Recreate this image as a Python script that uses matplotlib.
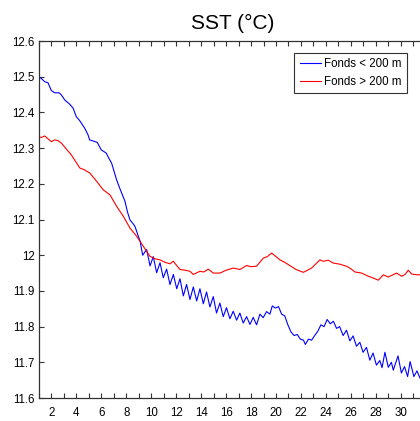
import matplotlib
matplotlib.use("Agg")
import matplotlib.pyplot as plt
from matplotlib.ticker import MultipleLocator, FixedLocator

plt.rcParams['font.family'] = ['Liberation Sans', 'DejaVu Sans']

title = "SST (°C)"
label_shallow = "Fonds < 200 m"
label_deep = "Fonds > 200 m"

# Series "Fonds < 200 m" (blue): day, SST
shallow_x = [1.00, 1.18, 1.46, 1.72, 1.99, 2.26, 2.60, 2.79, 3.06, 3.46, 3.73, 3.99,
             4.26, 4.66, 4.93, 5.06, 5.33, 5.67, 5.99, 6.39, 6.59, 6.82, 7.22, 7.50,
             7.89, 8.10, 8.29, 8.50, 8.69, 8.96, 9.10, 9.23, 9.31,
             9.63, 9.90, 10.16, 10.43, 10.70, 10.96, 11.23, 11.50, 11.77, 12.04,
             12.30, 12.57, 12.83, 13.10, 13.37, 13.64, 13.90, 14.17, 14.43, 14.70,
             14.97, 15.23, 15.50, 15.77, 16.03, 16.30, 16.57, 16.84, 17.10, 17.37,
             17.64, 17.91, 18.17, 18.44, 18.71, 18.97, 19.24, 19.51, 19.70, 19.95,
             20.20, 20.45, 20.70, 20.95, 21.20, 21.45, 21.70, 21.95, 22.20, 22.35,
             22.60, 22.85, 23.10, 23.35, 23.60, 23.85, 24.10, 24.35, 24.60, 24.85,
             25.10, 25.38, 25.65, 25.92, 26.18, 26.45, 26.72, 26.98, 27.25, 27.52,
             27.78, 28.05, 28.32, 28.50, 28.73, 29.00, 29.25, 29.40, 29.78, 30.05,
             30.30, 30.55, 30.75, 31.05, 31.30, 31.55, 31.75]
shallow_y = [12.500, 12.495, 12.486, 12.483, 12.461, 12.455, 12.455, 12.449, 12.435, 12.423, 12.412, 12.388,
             12.377, 12.356, 12.337, 12.323, 12.320, 12.316, 12.295, 12.286, 12.272, 12.258, 12.211, 12.185,
             12.151, 12.120, 12.099, 12.090, 12.081, 12.053, 12.040, 12.015, 12.000,
             12.016, 11.970, 11.996, 11.951, 11.979, 11.937, 11.961, 11.918, 11.946, 11.906,
             11.934, 11.886, 11.918, 11.876, 11.911, 11.872, 11.906, 11.864, 11.897, 11.855,
             11.884, 11.838, 11.866, 11.828, 11.853, 11.822, 11.843, 11.818, 11.838, 11.810,
             11.828, 11.806, 11.826, 11.805, 11.835, 11.825, 11.842, 11.835, 11.858, 11.852,
             11.856, 11.835, 11.830, 11.805, 11.785, 11.775, 11.778, 11.765, 11.762, 11.750,
             11.765, 11.762, 11.775, 11.787, 11.805, 11.800, 11.820, 11.808, 11.815, 11.795,
             11.800, 11.775, 11.790, 11.760, 11.774, 11.745, 11.756, 11.728, 11.742, 11.706,
             11.726, 11.692, 11.705, 11.685, 11.728, 11.686, 11.700, 11.678, 11.718, 11.670,
             11.688, 11.660, 11.702, 11.660, 11.676, 11.655, 11.665]

# Series "Fonds > 200 m" (red): day, SST
deep_x = [1.00, 1.20, 1.46, 1.72, 1.99, 2.26, 2.52, 2.79, 3.06, 3.32, 3.59, 3.81,
          4.28, 4.60, 5.08, 5.62, 6.15, 6.69, 7.22, 7.76, 8.29, 8.83, 9.36, 9.89,
          10.30, 10.70, 11.10, 11.50, 11.76, 12.30, 12.70, 13.10, 13.37, 13.90,
          14.20, 14.57, 14.97, 15.51, 16.00, 16.57, 17.11, 17.64, 18.00, 18.44,
          18.98, 19.30, 19.65, 20.31, 20.70, 21.11, 21.60, 22.19, 22.85, 23.52,
          23.79, 24.19, 24.59, 25.10, 25.66, 26.00, 26.33, 26.86, 27.40, 27.80,
          28.20, 28.60, 29.00, 29.30, 29.67, 30.07, 30.35, 30.60, 30.88, 31.40, 31.80]
deep_y = [12.331, 12.330, 12.334, 12.326, 12.318, 12.323, 12.321, 12.314, 12.303, 12.292, 12.281, 12.269,
          12.244, 12.240, 12.230, 12.207, 12.183, 12.169, 12.137, 12.109, 12.076, 12.053, 12.025, 11.997,
          11.990, 11.987, 11.980, 11.976, 11.983, 11.960, 11.958, 11.955, 11.946, 11.955,
          11.953, 11.961, 11.950, 11.950, 11.958, 11.964, 11.960, 11.971, 11.968, 11.969,
          11.992, 11.996, 12.006, 11.987, 11.980, 11.971, 11.960, 11.952, 11.964, 11.987,
          11.983, 11.986, 11.978, 11.975, 11.969, 11.962, 11.953, 11.950, 11.941, 11.936,
          11.930, 11.945, 11.939, 11.944, 11.950, 11.941, 11.946, 11.958, 11.947, 11.945, 11.946]

x_range = [1, 32]
y_range = [11.6, 12.6]
x_tick_labels = [2, 4, 6, 8, 10, 12, 14, 16, 18, 20, 22, 24, 26, 28, 30]
x_minor = 1
y_major = 0.1

fig = plt.figure(figsize=(4.20, 4.21), dpi=100)
ax = fig.add_axes([0.0929, 0.0546, 0.9207, 0.8480])

ax.plot(shallow_x, shallow_y, color='#0000ff', lw=0.8, label=label_shallow)
ax.plot(deep_x, deep_y, color='#ff0000', lw=0.8, label=label_deep)

ax.set_xlim(*x_range)
ax.set_ylim(*y_range)
ax.xaxis.set_major_locator(FixedLocator(x_tick_labels))
ax.xaxis.set_minor_locator(MultipleLocator(x_minor))
ax.yaxis.set_major_locator(MultipleLocator(y_major))
ax.yaxis.set_major_formatter(matplotlib.ticker.FuncFormatter(lambda v, p: f"{v:g}" if abs(v - 12) > 1e-9 else "12"))

ax.tick_params(axis='both', which='both', direction='in', top=True, right=True,
               length=3.5, width=0.8, color='#333333', labelsize=8.3)
ax.tick_params(axis='x', which='major', pad=6.5)
ax.tick_params(axis='y', which='major', pad=3)
for s in ax.spines.values():
    s.set_color('#333333')
    s.set_linewidth(0.9)

ax.set_title(title, fontsize=15, pad=9)

leg = ax.legend(loc='upper right', bbox_to_anchor=(0.9517, 0.9672), borderaxespad=0,
                fontsize=8.3, handlelength=1.9, handletextpad=0.25, labelspacing=0.55,
                borderpad=0.45, fancybox=False, framealpha=1, edgecolor='#333333')
leg.get_frame().set_linewidth(0.8)

fig.savefig('out.png', dpi=100)
